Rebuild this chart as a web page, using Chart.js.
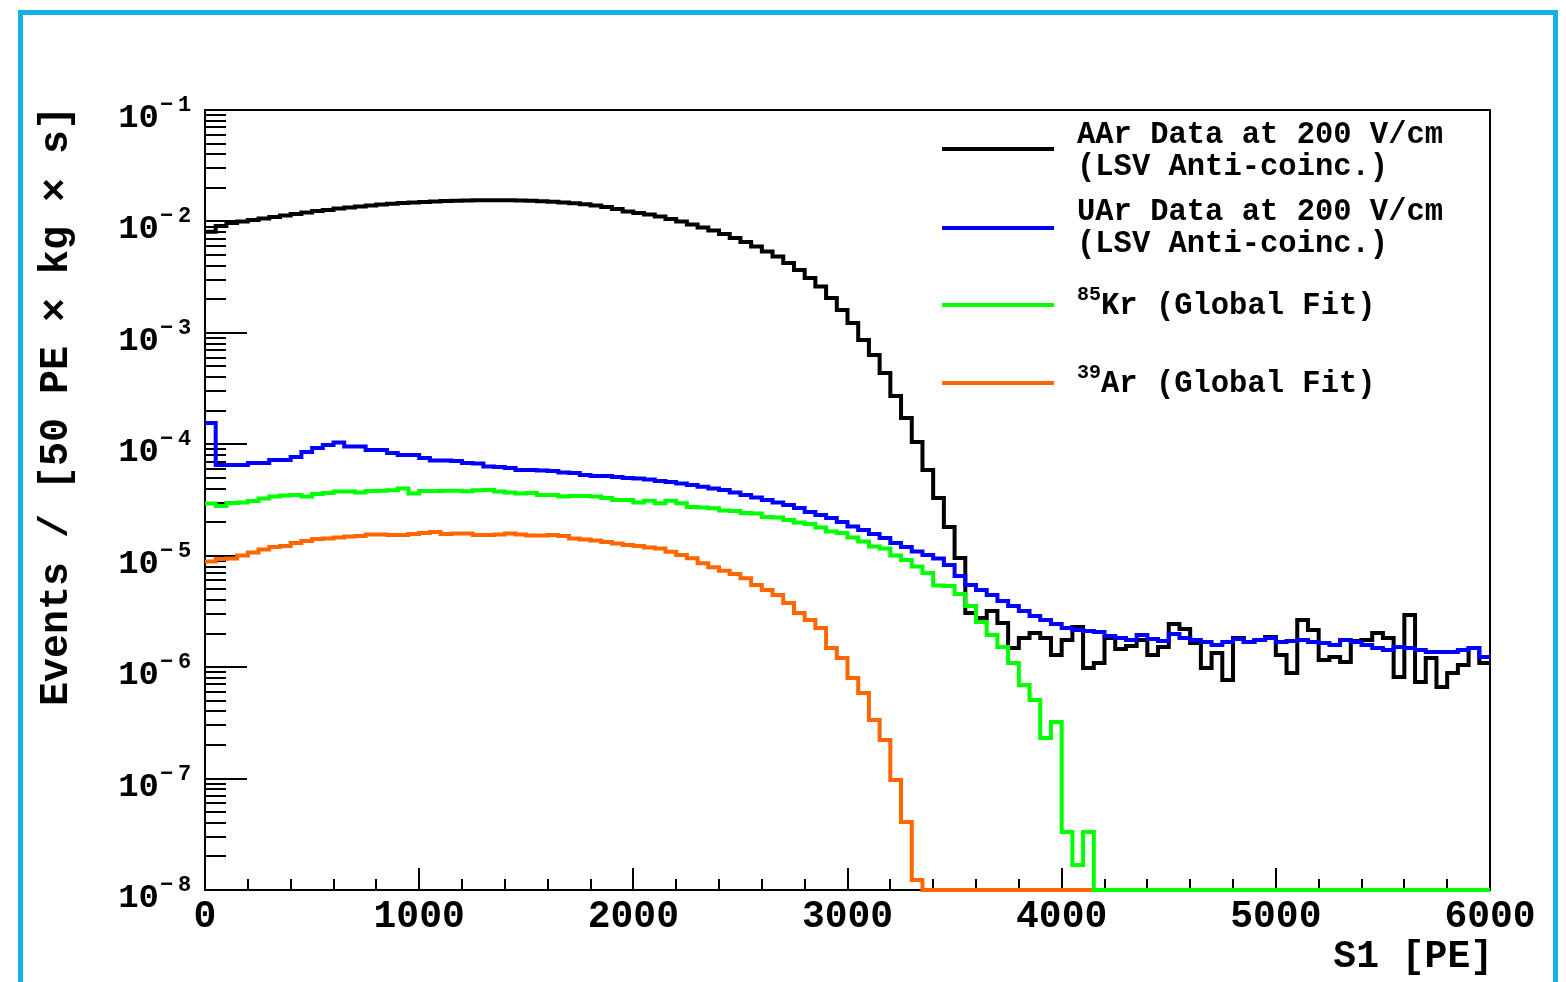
<!DOCTYPE html>
<html>
<head>
<meta charset="utf-8">
<script src="https://cdn.jsdelivr.net/npm/chart.js@4.4.1/dist/chart.umd.min.js"></script>
<style>
  html, body { margin: 0; padding: 0; background: #ffffff; }
  canvas { display: block; }
</style>
</head>
<body>
<canvas id="c" width="1566" height="982"></canvas>
<script>
// ---------------- data (S1 in PE, 50 PE bins) ----------------
const BIN_WIDTH = 50;
const binLowEdges = [
  0, 50, 100, 150, 200, 250, 300, 350, 400, 450,
  500, 550, 600, 650, 700, 750, 800, 850, 900, 950,
  1000, 1050, 1100, 1150, 1200, 1250, 1300, 1350, 1400, 1450,
  1500, 1550, 1600, 1650, 1700, 1750, 1800, 1850, 1900, 1950,
  2000, 2050, 2100, 2150, 2200, 2250, 2300, 2350, 2400, 2450,
  2500, 2550, 2600, 2650, 2700, 2750, 2800, 2850, 2900, 2950,
  3000, 3050, 3100, 3150, 3200, 3250, 3300, 3350, 3400, 3450,
  3500, 3550, 3600, 3650, 3700, 3750, 3800, 3850, 3900, 3950,
  4000, 4050, 4100, 4150, 4200, 4250, 4300, 4350, 4400, 4450,
  4500, 4550, 4600, 4650, 4700, 4750, 4800, 4850, 4900, 4950,
  5000, 5050, 5100, 5150, 5200, 5250, 5300, 5350, 5400, 5450,
  5500, 5550, 5600, 5650, 5700, 5750, 5800, 5850, 5900, 5950
];

// AAr Data at 200 V/cm (LSV Anti-coinc.)
const aarData = [
  8.1e-3, 9.1e-3, 9.68e-3, 9.99e-3, 1.03e-2, 1.062e-2, 1.096e-2, 1.13e-2, 1.166e-2, 1.202e-2,
  1.24e-2, 1.266e-2, 1.306e-2, 1.334e-2, 1.361e-2, 1.39e-2, 1.419e-2, 1.439e-2, 1.463e-2, 1.479e-2,
  1.494e-2, 1.51e-2, 1.525e-2, 1.535e-2, 1.541e-2, 1.548e-2, 1.551e-2, 1.551e-2, 1.548e-2, 1.541e-2,
  1.531e-2, 1.519e-2, 1.5e-2, 1.479e-2, 1.455e-2, 1.425e-2, 1.39e-2, 1.348e-2, 1.293e-2, 1.228e-2,
  1.19e-2, 1.154e-2, 1.107e-2, 1.052e-2, 9.99e-3, 9.39e-3, 8.82e-3, 8.29e-3, 7.71e-3, 7.1e-3,
  6.54e-3, 5.96e-3, 5.37e-3, 4.85e-3, 4.24e-3, 3.67e-3, 3.11e-3, 2.61e-3, 2.055e-3, 1.604e-3,
  1.226e-3, 8.63e-4, 6.33e-4, 4.36e-4, 2.71e-4, 1.72e-4, 1.048e-4, 5.88e-5, 3.3e-5, 1.81e-5,
  9.54e-6, 3.06e-6, 2.76e-6, 3.19e-6, 2.49e-6, 1.485e-6, 1.83e-6, 2.03e-6, 1.83e-6, 1.285e-6,
  1.75e-6, 2.29e-6, 9.83e-7, 1.09e-6, 1.83e-6, 1.455e-6, 1.548e-6, 1.75e-6, 1.285e-6, 1.516e-6,
  2.44e-6, 2.2e-6, 1.647e-6, 9.83e-7, 1.34e-6, 7.67e-7, 1.83e-6, 1.68e-6, 1.75e-6, 1.865e-6,
  1.285e-6, 8.86e-7, 2.65e-6, 2.155e-6, 1.159e-6, 1.233e-6, 1.112e-6, 1.717e-6, 1.75e-6, 2.03e-6,
  1.83e-6, 8.16e-7, 2.94e-6, 7.36e-7, 1.208e-6, 6.64e-7, 8.86e-7, 1.045e-6, 1.485e-6, 1.09e-6
];

// UAr Data at 200 V/cm (LSV Anti-coinc.)
const uarData = [
  1.553e-4, 6.52e-5, 6.52e-5, 6.52e-5, 6.79e-5, 6.79e-5, 7.23e-5, 7.23e-5, 7.69e-5, 8.53e-5,
  9.26e-5, 9.85e-5, 1.038e-4, 9.55e-5, 9.55e-5, 8.89e-5, 8.89e-5, 8.35e-5, 8.01e-5, 8.01e-5,
  7.53e-5, 7.15e-5, 7.15e-5, 7.08e-5, 6.79e-5, 6.72e-5, 6.32e-5, 6.25e-5, 6.13e-5, 5.88e-5,
  5.88e-5, 5.82e-5, 5.76e-5, 5.58e-5, 5.53e-5, 5.3e-5, 5.19e-5, 5.19e-5, 5.09e-5, 4.98e-5,
  4.93e-5, 4.83e-5, 4.68e-5, 4.59e-5, 4.45e-5, 4.31e-5, 4.16e-5, 4.01e-5, 3.89e-5, 3.69e-5,
  3.51e-5, 3.33e-5, 3.16e-5, 3.0e-5, 2.85e-5, 2.68e-5, 2.47e-5, 2.32e-5, 2.18e-5, 2.01e-5,
  1.83e-5, 1.7e-5, 1.566e-5, 1.442e-5, 1.3e-5, 1.197e-5, 1.091e-5, 1.015e-5, 9.44e-6, 8.25e-6,
  6.58e-6, 5.46e-6, 4.92e-6, 4.44e-6, 3.92e-6, 3.54e-6, 3.19e-6, 2.88e-6, 2.65e-6, 2.44e-6,
  2.25e-6, 2.155e-6, 2.11e-6, 2.07e-6, 1.9e-6, 1.83e-6, 1.75e-6, 1.94e-6, 1.79e-6, 1.717e-6,
  1.98e-6, 1.83e-6, 1.75e-6, 1.68e-6, 1.58e-6, 1.68e-6, 1.79e-6, 1.68e-6, 1.75e-6, 1.83e-6,
  1.68e-6, 1.717e-6, 1.75e-6, 1.68e-6, 1.647e-6, 1.58e-6, 1.75e-6, 1.68e-6, 1.58e-6, 1.485e-6,
  1.425e-6, 1.516e-6, 1.485e-6, 1.425e-6, 1.367e-6, 1.367e-6, 1.367e-6, 1.425e-6, 1.485e-6, 1.233e-6
];

// 85Kr (Global Fit)  -- 0 = empty bin
const kr85Fit = [
  2.94e-5, 2.79e-5, 2.97e-5, 3.0e-5, 3.1e-5, 3.26e-5, 3.4e-5, 3.47e-5, 3.51e-5, 3.4e-5,
  3.58e-5, 3.66e-5, 3.77e-5, 3.77e-5, 3.69e-5, 3.81e-5, 3.82e-5, 3.87e-5, 4.01e-5, 3.62e-5,
  3.81e-5, 3.81e-5, 3.83e-5, 3.83e-5, 3.79e-5, 3.87e-5, 3.89e-5, 3.77e-5, 3.69e-5, 3.62e-5,
  3.66e-5, 3.51e-5, 3.51e-5, 3.4e-5, 3.44e-5, 3.44e-5, 3.4e-5, 3.3e-5, 3.16e-5, 3.16e-5,
  3.0e-5, 3.12e-5, 2.95e-5, 3.12e-5, 2.95e-5, 2.74e-5, 2.71e-5, 2.66e-5, 2.55e-5, 2.52e-5,
  2.42e-5, 2.39e-5, 2.23e-5, 2.2e-5, 2.09e-5, 1.99e-5, 1.93e-5, 1.79e-5, 1.65e-5, 1.6e-5,
  1.457e-5, 1.342e-5, 1.21e-5, 1.161e-5, 1.005e-5, 9.15e-6, 8.0e-6, 7.0e-6, 5.4e-6, 5.35e-6,
  4.53e-6, 3.54e-6, 2.54e-6, 1.94e-6, 1.516e-6, 1.09e-6, 6.92e-7, 5.07e-7, 2.31e-7, 3.22e-7,
  3.32e-8, 1.68e-8, 3.32e-8, 0, 0, 0, 0, 0, 0, 0,
  0, 0, 0, 0, 0, 0, 0, 0, 0, 0,
  0, 0, 0, 0, 0, 0, 0, 0, 0, 0,
  0, 0, 0, 0, 0, 0, 0, 0, 0, 0
];

// 39Ar (Global Fit)  -- 0 = empty bin
const ar39Fit = [
  8.87e-6, 9.35e-6, 9.44e-6, 1.005e-5, 1.069e-5, 1.137e-5, 1.197e-5, 1.223e-5, 1.3e-5, 1.355e-5,
  1.413e-5, 1.427e-5, 1.457e-5, 1.488e-5, 1.503e-5, 1.55e-5, 1.55e-5, 1.534e-5, 1.534e-5, 1.566e-5,
  1.6e-5, 1.633e-5, 1.566e-5, 1.582e-5, 1.582e-5, 1.534e-5, 1.534e-5, 1.55e-5, 1.582e-5, 1.55e-5,
  1.519e-5, 1.519e-5, 1.534e-5, 1.503e-5, 1.427e-5, 1.398e-5, 1.369e-5, 1.328e-5, 1.287e-5, 1.248e-5,
  1.223e-5, 1.185e-5, 1.161e-5, 1.087e-5, 1.015e-5, 9.48e-6, 8.55e-6, 7.87e-6, 7.34e-6, 6.85e-6,
  6.27e-6, 5.46e-6, 4.92e-6, 4.44e-6, 3.77e-6, 3.06e-6, 2.65e-6, 2.25e-6, 1.485e-6, 1.208e-6,
  7.99e-7, 5.86e-7, 3.36e-7, 2.22e-7, 9.71e-8, 4.08e-8, 1.23e-8, 0, 0, 0,
  0, 0, 0, 0, 0, 0, 0, 0, 0, 0,
  0, 0, 0, 0, 0, 0, 0, 0, 0, 0,
  0, 0, 0, 0, 0, 0, 0, 0, 0, 0,
  0, 0, 0, 0, 0, 0, 0, 0, 0, 0,
  0, 0, 0, 0, 0, 0, 0, 0, 0, 0
];

const seriesNames = [
  'AAr Data at 200 V/cm (LSV Anti-coinc.)',
  'UAr Data at 200 V/cm (LSV Anti-coinc.)',
  '85Kr (Global Fit)',
  '39Ar (Global Fit)'
];
const xTickValues = [0, 1000, 2000, 3000, 4000, 5000, 6000];
const yDecadeExponents = [-1, -2, -3, -4, -5, -6, -7, -8];
const X_MIN = 0, X_MAX = 6000, X_MINOR_STEP = 200;
const Y_MIN = 1e-8, Y_MAX = 1e-1;
const xTitle = 'S1 [PE]';
const yTitle = 'Events / [50 PE \u00d7 kg \u00d7 s]';

// ---------------- style ----------------
const FONT = '"Liberation Mono", "Courier New", "DejaVu Sans Mono", monospace';
const COLORS = ['#000000', '#0000ff', '#00ff00', '#ff6600'];

function histogramPoints(values) {
  const pts = [];
  values.forEach((v, i) => {
    const yv = v > 0 ? v : Y_MIN;  // empty bins sit on the axis floor (ROOT style)
    pts.push({ x: binLowEdges[i], y: yv });
    pts.push({ x: binLowEdges[i] + BIN_WIDTH, y: yv });
  });
  return pts;
}

function ds(idx, values, order) {
  return {
    label: seriesNames[idx],
    data: histogramPoints(values),
    borderColor: COLORS[idx],
    backgroundColor: COLORS[idx],
    borderWidth: 4,
    pointRadius: 0,
    pointHoverRadius: 0,
    tension: 0,
    fill: false,
    clip: false,
    borderJoinStyle: 'miter',
    borderCapStyle: 'butt',
    order: order
  };
}

const legendEntries = [
  { ds: 0, lineY: 149, rows: [{ text: 'AAr Data at 200 V/cm', base: 143 }, { text: '(LSV Anti-coinc.)', base: 175 }] },
  { ds: 1, lineY: 228, rows: [{ text: 'UAr Data at 200 V/cm', base: 220 }, { text: '(LSV Anti-coinc.)', base: 252 }] },
  { ds: 2, lineY: 305, rows: [{ sup: '85', supBase: 300, text: 'Kr (Global Fit)', base: 314 }] },
  { ds: 3, lineY: 383, rows: [{ sup: '39', supBase: 378, text: 'Ar (Global Fit)', base: 392 }] }
];

const rootStyle = {
  id: 'rootStyle',
  beforeDraw(chart) {
    const ctx = chart.ctx;
    ctx.save();
    ctx.fillStyle = '#ffffff';
    ctx.fillRect(0, 0, chart.width, chart.height);
    ctx.strokeStyle = '#14b1e3';
    ctx.lineWidth = 5;
    ctx.strokeRect(20.5, 12.5, 1535, 1010);
    ctx.restore();
  },
  beforeDatasetsDraw(chart) {
    const { ctx, chartArea: a, scales: { x, y } } = chart;
    ctx.save();
    ctx.strokeStyle = '#000';
    ctx.lineWidth = 2;
    ctx.beginPath();
    // x ticks (inside, bottom)
    for (let v = X_MIN; v <= X_MAX; v += X_MINOR_STEP) {
      const px = Math.round(x.getPixelForValue(v));
      const len = (v % 1000 === 0) ? 22 : 11;
      ctx.moveTo(px, a.bottom);
      ctx.lineTo(px, a.bottom - len);
    }
    // y ticks (inside, left)
    for (let e = -8; e <= -1; e++) {
      for (let m = 1; m <= 9; m++) {
        const val = m * Math.pow(10, e);
        if (val > Y_MAX * 1.0001) continue;
        const py = Math.round(y.getPixelForValue(val));
        const len = (m === 1) ? 42 : 21;
        ctx.moveTo(a.left, py);
        ctx.lineTo(a.left + len, py);
      }
    }
    ctx.stroke();
    // frame
    ctx.strokeRect(a.left, a.top, a.right - a.left, a.bottom - a.top);
    ctx.restore();
  },
  afterDraw(chart) {
    const { ctx, chartArea: a, scales: { y } } = chart;
    ctx.save();
    ctx.fillStyle = '#000';
    // y tick labels 10^k
    yDecadeExponents.forEach(k => {
      const py = y.getPixelForValue(Math.pow(10, k));
      ctx.font = 'bold 34px ' + FONT;
      ctx.textAlign = 'right';
      ctx.textBaseline = 'alphabetic';
      ctx.fillText('10', 159, py + 17);
      ctx.font = 'bold 22px ' + FONT;
      ctx.textAlign = 'left';
      ctx.fillText('\u2212', 160, py + 1);
      ctx.fillText(String(-k), 178, py + 1);
    });
    // y title
    ctx.save();
    ctx.translate(67, a.top - 4);
    ctx.rotate(-Math.PI / 2);
    ctx.font = 'bold 40px ' + FONT;
    ctx.textAlign = 'right';
    ctx.textBaseline = 'alphabetic';
    ctx.fillText(yTitle, 0, 0);
    ctx.restore();
    // x title
    ctx.font = 'bold 38px ' + FONT;
    ctx.textAlign = 'right';
    ctx.textBaseline = 'alphabetic';
    ctx.fillText(xTitle, a.right + 3, 967);
    // legend
    legendEntries.forEach(ent => {
      const d = chart.data.datasets[ent.ds];
      ctx.strokeStyle = d.borderColor;
      ctx.lineWidth = 4;
      ctx.beginPath();
      ctx.moveTo(942, ent.lineY);
      ctx.lineTo(1054, ent.lineY);
      ctx.stroke();
      ent.rows.forEach(r => {
        let tx = 1077;
        ctx.fillStyle = '#000';
        ctx.textAlign = 'left';
        ctx.textBaseline = 'alphabetic';
        if (r.sup) {
          ctx.font = 'bold 20px ' + FONT;
          ctx.fillText(r.sup, tx, r.supBase);
          tx += ctx.measureText(r.sup).width;
        }
        ctx.font = 'bold 30.5px ' + FONT;
        ctx.fillText(r.text, tx, r.base);
      });
    });
    ctx.restore();
  }
};

new Chart(document.getElementById('c'), {
  type: 'line',
  data: {
    datasets: [
      ds(0, aarData, 3),
      ds(1, uarData, 0),
      ds(2, kr85Fit, 1),
      ds(3, ar39Fit, 2)
    ]
  },
  options: {
    responsive: false,
    animation: false,
    devicePixelRatio: 1,
    layout: { padding: { top: 110, right: 76, left: 0, bottom: 0 } },
    plugins: { legend: { display: false }, title: { display: false }, tooltip: { enabled: false } },
    events: [],
    scales: {
      x: {
        type: 'linear',
        min: X_MIN,
        max: X_MAX,
        afterBuildTicks(scale) { scale.ticks = xTickValues.map(v => ({ value: v })); },
        ticks: {
          autoSkip: false,
          maxRotation: 0,
          padding: 8,
          color: '#000',
          font: { family: FONT, size: 38, weight: 'bold', lineHeight: 1 },
          callback: v => String(v)
        },
        grid: { display: false, drawTicks: false },
        border: { display: false },
        afterFit(scale) { scale.height = 92; }
      },
      y: {
        type: 'logarithmic',
        min: Y_MIN,
        max: Y_MAX,
        ticks: { display: false },
        grid: { display: false, drawTicks: false },
        border: { display: false },
        afterFit(scale) { scale.width = 205; }
      }
    }
  },
  plugins: [rootStyle]
});
</script>
</body>
</html>
